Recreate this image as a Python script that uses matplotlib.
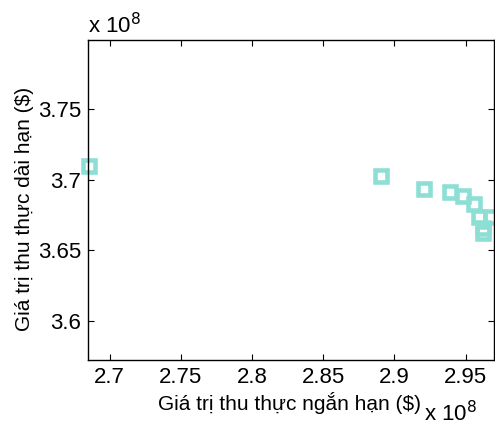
import matplotlib
matplotlib.use("Agg")
import matplotlib.pyplot as plt

plt.rcParams['font.family'] = ['Liberation Sans', 'DejaVu Sans']

# values in units of 1e8 $
short_term = [2.6855, 2.8903, 2.9207, 2.9392, 2.9479, 2.9558, 2.9596, 2.9680, 2.9619, 2.9622]
long_term = [3.7099, 3.7030, 3.6936, 3.6913, 3.6882, 3.6828, 3.6740, 3.6740, 3.6657, 3.6624]
xticks = [2.7, 2.75, 2.8, 2.85, 2.9, 2.95]
yticks = [3.6, 3.65, 3.7, 3.75]

fig = plt.figure(figsize=(4.95, 4.26), dpi=100)
ax = fig.add_axes([88.3/495, 1 - 360/426, (493.7-88.3)/495, (360-40)/426])
ax.plot(short_term, long_term, linestyle='none', marker='s', markersize=8.0,
        markerfacecolor='none', markeredgecolor='#8ddfd6', markeredgewidth=3.3,
        clip_on=False)
ax.set_xlim(2.685, 2.9697)
ax.set_ylim(3.5723, 3.7991)
ax.set_xticks(xticks)
ax.set_xticklabels([f"{v:g}" for v in xticks])
ax.set_yticks(yticks)
ax.set_yticklabels([f"{v:g}" for v in yticks])
ax.tick_params(direction='in', length=4, width=0.8, labelsize=16, top=True, right=True, pad=5)
for s in ax.spines.values():
    s.set_linewidth(1.0)
ax.set_xlabel("Giá trị thu thực ngắn hạn ($)", fontsize=15)
ax.xaxis.set_label_coords(0.497, -0.1)
ax.set_ylabel("Giá trị thu thực dài hạn ($)", fontsize=15)
ax.yaxis.set_label_coords(-0.134, 0.472)
fig.text(88/495, 1 - 33/426, r"x 10$^{8}$", fontsize=16, ha='left', va='baseline')
fig.text(424/495, 1 - 421/426, r"x 10$^{8}$", fontsize=16, ha='left', va='baseline')
fig.savefig("out.png", dpi=100)
